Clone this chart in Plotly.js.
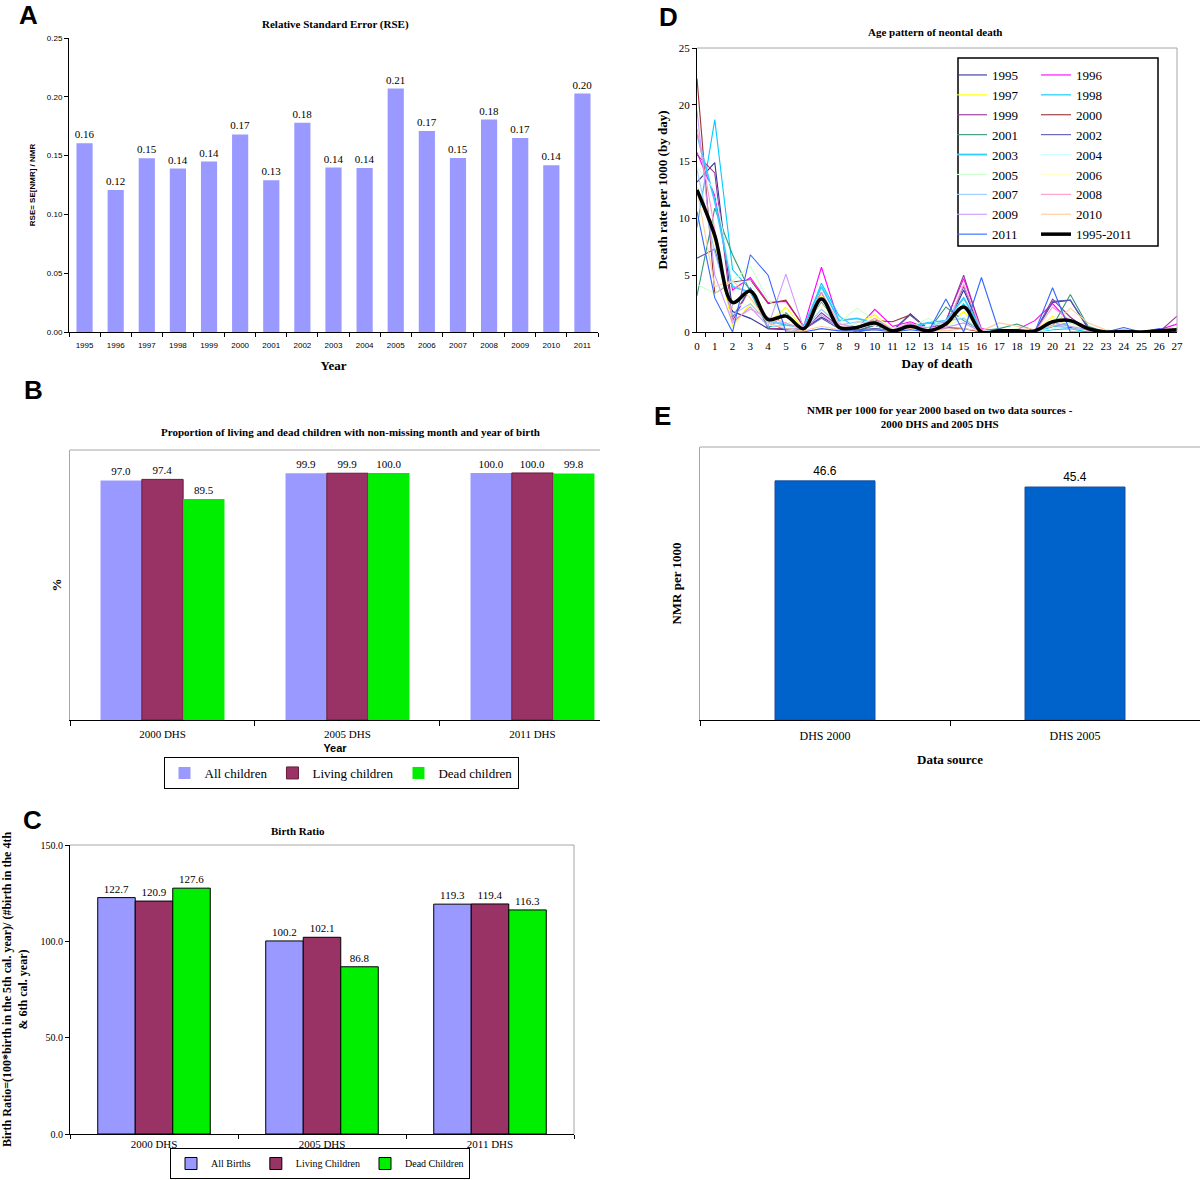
<!DOCTYPE html>
<html><head><meta charset="utf-8">
<script src="https://cdn.plot.ly/plotly-3.0.1.min.js"></script>
<style>html,body{margin:0;padding:0;background:#fff}#chart{width:1200px;height:1180px}</style>
</head><body><div id="chart"></div>
<script>
// ---------- Panel A: Relative Standard Error ----------
const rseYears = ['1995','1996','1997','1998','1999','2000','2001','2002','2003','2004','2005','2006','2007','2008','2009','2010','2011'];
const rseValues = [0.1605,0.1207,0.1477,0.1390,0.1449,0.1680,0.1290,0.1780,0.1398,0.1395,0.2070,0.1710,0.1480,0.1807,0.1650,0.1418,0.2028];

// ---------- Panel B: proportion with non-missing month/year ----------
const surveyLabels = ['2000 DHS','2005 DHS','2011 DHS'];
const propAll = [97.0, 99.9, 100.0];
const propLiving = [97.4, 99.9, 100.0];
const propDead = [89.5, 100.0, 99.8];

// ---------- Panel C: Birth ratio ----------
const brAll = [122.7, 100.2, 119.3];
const brLiving = [120.9, 102.1, 119.4];
const brDead = [127.6, 86.8, 116.3];

// ---------- Panel D: Age pattern of neonatal death ----------
const days = [0,1,2,3,4,5,6,7,8,9,10,11,12,13,14,15,16,17,18,19,20,21,22,23,24,25,26,27];
const y1995 = [13.2,14.9,1.8,1.2,0.3,0.2,0.3,1.3,0.5,0.0,0.3,0.1,1.6,0.2,0.3,3.7,0.1,0.0,0.0,0.0,2.6,2.8,0.3,0.0,0.0,0.0,0.0,0.2];
const y1996 = [15.8,12.0,3.7,4.8,2.6,2.7,0.5,5.7,0.8,0.3,2.0,0.5,0.9,0.3,1.0,4.7,0.3,0.0,0.2,1.0,2.5,0.8,0.3,0.0,0.0,0.0,0.2,0.7];
const y1997 = [12.8,8.0,0.5,2.5,0.8,2.2,0.2,3.2,0.3,0.8,1.5,0.3,0.5,0.1,0.5,1.8,0.0,0.0,0.0,0.0,1.4,0.3,0.0,0.0,0.0,0.0,0.0,0.0];
const y1998 = [9.2,18.7,5.5,3.7,0.5,0.6,0.3,4.3,1.4,0.3,1.2,0.2,0.4,0.8,0.5,2.5,0.1,0.0,0.0,0.0,0.2,0.3,0.0,0.0,0.0,0.0,0.0,0.0];
const y1999 = [15.6,14.0,1.0,3.9,0.3,0.3,0.1,1.7,0.5,0.1,0.6,0.1,0.8,0.2,0.9,5.0,0.1,0.0,0.0,0.0,2.9,1.3,0.2,0.0,0.0,0.0,0.0,1.4];
const y2000 = [22.3,3.4,4.4,4.6,2.5,2.8,0.5,3.5,0.4,0.5,1.0,0.9,1.5,0.3,0.4,0.3,0.0,0.0,0.0,0.0,0.5,0.4,0.2,0.0,0.0,0.0,0.0,0.1];
const y2001 = [3.2,10.9,6.8,3.5,0.3,1.7,0.2,2.6,0.5,0.1,0.6,0.1,0.5,0.1,2.2,1.0,0.1,0.3,0.7,0.1,0.5,3.3,0.5,0.0,0.0,0.0,0.0,0.0];
const y2002 = [6.5,7.3,1.3,3.9,0.8,0.2,0.2,1.2,0.3,0.2,0.3,0.1,1.5,0.2,0.4,4.0,0.1,0.0,0.0,0.0,2.7,2.8,0.4,0.0,0.0,0.0,0.0,0.0];
const y2003 = [17.4,11.5,4.0,3.5,1.0,0.6,0.5,4.0,1.0,1.2,0.8,0.3,0.5,0.8,1.0,3.0,0.2,0.0,0.0,0.0,0.5,0.8,0.2,0.0,0.0,0.0,0.0,0.0];
const y2004 = [14.5,12.5,4.3,4.5,0.6,0.5,0.3,3.0,0.8,0.6,0.6,0.2,0.3,0.5,0.8,1.5,0.1,0.0,0.0,0.0,0.3,0.5,0.1,0.0,0.0,0.0,0.0,0.0];
const y2005 = [4.2,3.4,4.5,5.8,2.8,1.5,0.4,2.0,0.8,2.1,1.0,0.3,0.4,1.2,0.4,1.3,0.1,0.0,0.3,0.0,1.0,0.8,0.3,0.0,0.0,0.0,0.0,0.0];
const y2006 = [13.0,8.5,2.0,2.8,1.0,1.0,0.3,2.5,0.5,0.5,1.3,0.4,0.3,0.3,0.5,1.5,0.0,0.0,0.0,0.0,1.2,0.7,0.2,0.0,0.0,0.0,0.0,0.0];
const y2007 = [14.3,7.0,1.5,2.5,0.8,0.8,0.2,2.0,0.6,0.9,0.8,0.2,0.3,0.4,1.0,1.2,0.0,0.0,0.0,0.0,0.6,0.3,0.2,0.0,0.0,0.0,0.0,0.0];
const y2008 = [17.9,9.0,1.0,2.0,1.3,0.8,0.2,3.5,0.7,0.4,1.2,0.2,0.8,0.2,0.3,4.2,0.1,0.0,0.0,0.0,2.2,1.0,0.1,0.0,0.0,0.0,0.0,0.3];
const y2009 = [19.5,5.0,0.8,2.2,0.5,5.1,0.3,1.5,0.4,0.5,0.9,0.1,0.7,0.2,0.4,0.8,0.0,0.0,0.0,0.0,0.8,0.5,0.2,0.0,0.0,0.0,0.0,0.0];
const y2010 = [12.5,4.0,4.5,3.0,0.8,0.3,0.1,0.5,0.2,0.1,0.2,0.1,0.3,0.1,0.1,0.3,0.1,0.8,0.5,0.2,0.5,2.1,0.8,0.2,0.0,0.0,0.0,0.0];
const y2011 = [10.6,3.0,0.0,6.8,5.0,0.0,0.0,0.3,0.1,0.1,0.2,0.0,0.2,0.0,2.9,0.0,4.8,0.0,0.0,0.0,3.9,0.0,0.0,0.0,0.4,0.0,0.3,0.0];
const yAll = [12.5,8.5,2.6,3.6,1.1,1.4,0.3,2.9,0.4,0.4,0.8,0.1,0.5,0.1,0.7,2.2,0.0,0.1,0.1,0.1,0.9,1.0,0.3,0.0,0.05,0.0,0.1,0.2];
const seriesNames = ['1995','1996','1997','1998','1999','2000','2001','2002','2003','2004','2005','2006','2007','2008','2009','2010','2011','1995-2011'];
const seriesValues = [y1995,y1996,y1997,y1998,y1999,y2000,y2001,y2002,y2003,y2004,y2005,y2006,y2007,y2008,y2009,y2010,y2011,yAll];
const seriesColors = ['#333399','#ff00ff','#ffff00','#00ccff','#993399','#993333','#339977','#5a5ab4','#33ccff','#ccffff','#ccffcc','#ffffcc','#99ccff','#ff99cc','#cc99ff','#ffcc99','#3366ff','#000000'];

// ---------- Panel E: NMR per 1000 ----------
const nmrSources = ['DHS 2000','DHS 2005'];
const nmrValues = [46.6, 45.4];

// ---------- helpers ----------
const SERIF = '"Liberation Serif", "Times New Roman", serif';
const SANS = '"Liberation Sans", Arial, sans-serif';
const W = 1200, H = 1180;
const fx = p => p / W;
const fy = p => 1 - p / H;
const colAll = '#9999ff', colLiving = '#993366', colDead = '#00ee00';

const traces = [];

// A
traces.push({type:'bar', x:rseYears, y:rseValues, xaxis:'x', yaxis:'y', width:0.52,
  marker:{color:'#9999ff'}, texttemplate:'%{y:.2f}', textposition:'outside', constraintext:'none',
  textfont:{family:SERIF, size:11, color:'#000'}, cliponaxis:false, showlegend:false, name:'RSE'});

// B
[[propAll,'All children',colAll,'rgba(0,0,0,0)'],[propLiving,'Living children',colLiving,'#6a1a3a'],[propDead,'Dead children',colDead,'rgba(0,0,0,0)']].forEach(([v,n,c,lc]) => {
  traces.push({type:'bar', x:surveyLabels, y:v, name:n, xaxis:'x3', yaxis:'y3', legend:'legend',
    marker:{color:c, line:{color:lc, width:1}}, texttemplate:'%{y:.1f}', textposition:'outside', constraintext:'none',
    textfont:{family:SERIF, size:11, color:'#000'}, cliponaxis:false});
});

// C
[[brAll,'All Births',colAll],[brLiving,'Living Children',colLiving],[brDead,'Dead Children',colDead]].forEach(([v,n,c]) => {
  traces.push({type:'bar', x:surveyLabels, y:v, name:n, xaxis:'x5', yaxis:'y5', legend:'legend2',
    marker:{color:c, line:{color:'#000', width:1}}, texttemplate:'%{y:.1f}', textposition:'outside', constraintext:'none',
    textfont:{family:SERIF, size:11, color:'#000'}, cliponaxis:false});
});

// D
seriesNames.forEach((n,i) => {
  const isAvg = i === seriesNames.length - 1;
  traces.push({type:'scatter', mode:'lines', x:days, y:seriesValues[i], name:n, xaxis:'x2', yaxis:'y2',
    legend: (i % 2 === 0) ? 'legend3' : 'legend4',
    line:{color:seriesColors[i], width: isAvg ? 3.5 : (n==='2003' ? 1.8 : 1.1), shape: isAvg ? 'spline' : 'linear', smoothing: 1}});
});

// E
traces.push({type:'bar', x:nmrSources, y:nmrValues, xaxis:'x4', yaxis:'y4', width:0.4, showlegend:false, name:'NMR',
  marker:{color:'#0063cc', line:{color:'#1a4f9a', width:1}}, texttemplate:'%{y:.1f}', textposition:'outside', constraintext:'none',
  textfont:{family:SANS, size:12, color:'#000'}, cliponaxis:false});

const axisBase = {showgrid:false, zeroline:false, showline:true, linecolor:'#000', linewidth:1, ticks:'outside', ticklen:4, tickcolor:'#000', tickwidth:1, tickangle:0};
const gray = '#a6a6a6';

const ann = (text, x, y, font) => ({text, x:fx(x), y:fy(y), xref:'paper', yref:'paper', xanchor:'center', yanchor:'middle', showarrow:false, font});

const layout = {
  width:W, height:H, margin:{l:0,r:0,t:0,b:0}, paper_bgcolor:'#fff', plot_bgcolor:'#fff',
  barmode:'group', bargap:0.33, bargroupgap:0,
  font:{family:SERIF, color:'#000'},
  // A
  xaxis: Object.assign({}, axisBase, {domain:[fx(69),fx(598)], anchor:'y', type:'category', tickson:'boundaries', ticklabelstandoff:5,
    tickfont:{family:SANS, size:8}, title:{text:'<b>Year</b>', font:{family:SERIF, size:13}, standoff:12}}),
  yaxis: Object.assign({}, axisBase, {domain:[fy(332),fy(38)], anchor:'x', range:[0,0.25], dtick:0.05, tickformat:'.2f',
    tickfont:{family:SANS, size:8}, title:{text:'<b>RSE= SE[NMR] / NMR</b>', font:{family:SANS, size:8}, standoff:10}}),
  // D
  xaxis2: Object.assign({}, axisBase, {domain:[fx(697),fx(1177)], anchor:'y2', type:'category', tickson:'boundaries', ticklabelstandoff:4,
    tickfont:{family:SERIF, size:11}, title:{text:'<b>Day of death</b>', font:{family:SERIF, size:13}, standoff:7}}),
  yaxis2: Object.assign({}, axisBase, {domain:[fy(332),fy(48)], anchor:'x2', range:[0,25], dtick:5,
    tickfont:{family:SERIF, size:11}, title:{text:'<b>Death rate per 1000 (by day)</b>', font:{family:SERIF, size:13}, standoff:8}}),
  // B
  xaxis3: Object.assign({}, axisBase, {domain:[fx(70),fx(600)], anchor:'y3', type:'category', tickson:'boundaries', range:[-0.5,2.365],
    ticklen:5, ticklabelstandoff:4, tickfont:{family:SERIF, size:11}, title:{text:'<b>Year</b>', font:{family:SANS, size:11}, standoff:5}}),
  yaxis3: Object.assign({}, axisBase, {domain:[fy(720),fy(450)], anchor:'x3', range:[0,109.3], showticklabels:false, ticks:'',
    linecolor:gray, title:{text:'<b>%</b>', font:{family:SERIF, size:13}, standoff:4}}),
  // E
  xaxis4: Object.assign({}, axisBase, {domain:[fx(700),fx(1200)], anchor:'y4', type:'category', tickson:'boundaries',
    ticklen:5, ticklabelstandoff:5, tickfont:{family:SERIF, size:12}, title:{text:'<b>Data source</b>', font:{family:SERIF, size:13}, standoff:12}}),
  yaxis4: Object.assign({}, axisBase, {domain:[fy(720),fy(447)], anchor:'x4', range:[0,53.2], showticklabels:false, ticks:'',
    linecolor:gray, title:{text:'<b>NMR per 1000</b>', font:{family:SERIF, size:13}, standoff:14}}),
  // C
  xaxis5: Object.assign({}, axisBase, {domain:[fx(70),fx(574)], anchor:'y5', type:'category', tickson:'boundaries',
    ticklen:4, ticklabelstandoff:0, tickfont:{family:SERIF, size:11}}),
  yaxis5: Object.assign({}, axisBase, {domain:[fy(1134),fy(845)], anchor:'x5', range:[0,150], dtick:50, tickformat:'.1f',
    tickfont:{family:SERIF, size:10},
    title:{text:'<b>Birth Ratio=(100*birth in the 5th cal. year)/ (#birth in the 4th<br>&amp; 6th cal. year)</b>', font:{family:SERIF, size:12}, standoff:10}}),
  legend: {orientation:'h', x:fx(341), y:fy(773), xanchor:'center', yanchor:'middle', bgcolor:'#fff',
    bordercolor:'#000', borderwidth:1, font:{family:SERIF, size:13}, itemwidth:30, traceorder:'normal'},
  legend2: {orientation:'h', x:fx(320), y:fy(1179), xanchor:'center', yanchor:'bottom', bgcolor:'rgba(255,255,255,0)',
    bordercolor:'#000', borderwidth:1, font:{family:SERIF, size:10}, itemwidth:30, traceorder:'normal'},
  legend3: {x:fx(952), y:fy(60), xanchor:'left', yanchor:'top', bgcolor:'rgba(0,0,0,0)', borderwidth:0,
    font:{family:SERIF, size:13}, itemwidth:30, traceorder:'normal', tracegroupgap:0},
  legend4: {x:fx(1036), y:fy(60), xanchor:'left', yanchor:'top', bgcolor:'rgba(0,0,0,0)', borderwidth:0,
    font:{family:SERIF, size:13}, itemwidth:30, traceorder:'normal', tracegroupgap:0},
  shapes: [
    {type:'line', xref:'x2 domain', yref:'y2 domain', x0:0, x1:1, y0:1, y1:1, line:{color:gray, width:1}},
    {type:'line', xref:'x2 domain', yref:'y2 domain', x0:1, x1:1, y0:0, y1:1, line:{color:gray, width:1}},
    {type:'rect', xref:'paper', yref:'paper', x0:fx(958), x1:fx(1158), y0:fy(58), y1:fy(246), line:{color:'#000', width:1.5}, fillcolor:'rgba(255,255,255,1)', layer:'below'},
    {type:'line', xref:'x3 domain', yref:'y3 domain', x0:0, x1:1, y0:1, y1:1, line:{color:gray, width:1}},
    {type:'line', xref:'x4 domain', yref:'y4 domain', x0:0, x1:1, y0:1, y1:1, line:{color:gray, width:1}},
    {type:'line', xref:'x5 domain', yref:'y5 domain', x0:0, x1:1, y0:1, y1:1, line:{color:gray, width:1}},
    {type:'line', xref:'x5 domain', yref:'y5 domain', x0:1, x1:1, y0:0, y1:1, line:{color:gray, width:1}}
  ],
  annotations: [
    ann('<b>A</b>', 28, 15, {family:SANS, size:26}),
    ann('<b>D</b>', 668, 17, {family:SANS, size:26}),
    ann('<b>B</b>', 33, 390, {family:SANS, size:26}),
    ann('<b>E</b>', 662, 416, {family:SANS, size:26}),
    ann('<b>C</b>', 32, 820, {family:SANS, size:26}),
    ann('<b>Relative Standard Error (RSE)</b>', 335, 24, {family:SERIF, size:11}),
    ann('<b>Age pattern of neontal death</b>', 935, 32, {family:SERIF, size:11}),
    ann('<b>Proportion of living and dead children with non-missing month and year of birth</b>', 350, 432, {family:SERIF, size:11}),
    ann('<b>NMR per 1000 for year 2000 based on two data sources -<br>2000 DHS and 2005 DHS</b>', 940, 417, {family:SERIF, size:11}),
    ann('<b>Birth Ratio</b>', 298, 831, {family:SERIF, size:11})
  ]
};

Plotly.newPlot('chart', traces, layout, {staticPlot:true, displayModeBar:false});
</script>
</body></html>
